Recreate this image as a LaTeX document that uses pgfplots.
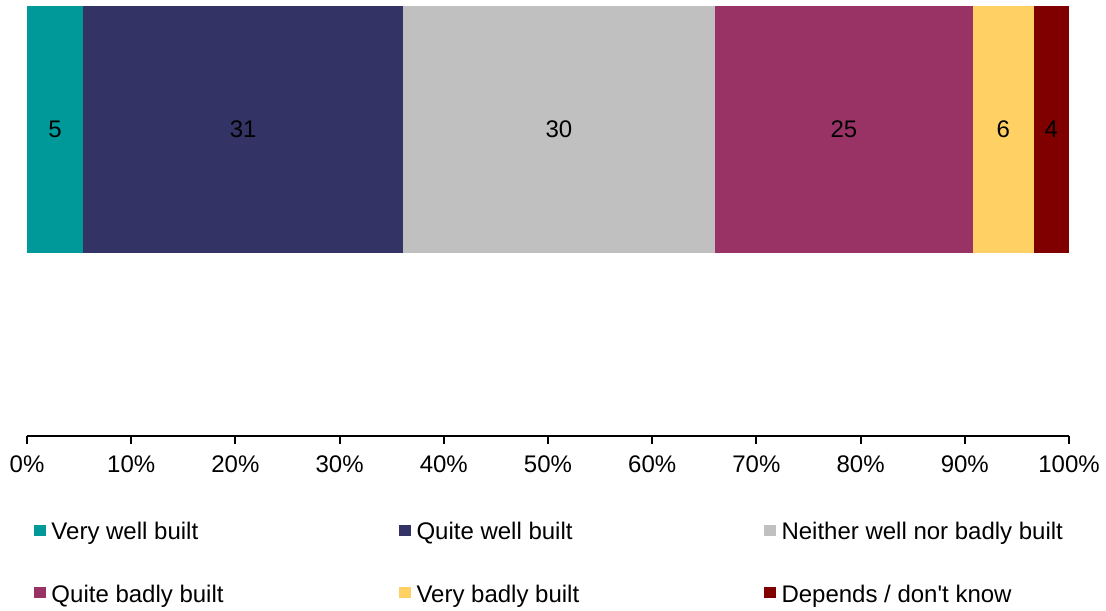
\documentclass[border=0pt]{standalone}
\usepackage{fontspec}
\setmainfont{Liberation Sans}
\usepackage{pgfplots}
\pgfplotsset{compat=1.18}
\definecolor{cA}{RGB}{0,153,153}
\definecolor{cB}{RGB}{51,51,102}
\definecolor{cC}{RGB}{192,192,192}
\definecolor{cD}{RGB}{153,51,102}
\definecolor{cE}{RGB}{255,208,99}
\definecolor{cF}{RGB}{128,0,0}
\pgfplotsset{legsq/.style={legend image code/.code={\fill[##1] (0pt,-2.25pt) rectangle (5.75pt,3.4pt);}}}
\newcommand{\leg}[1]{\makebox[173.75pt][l]{\rule[-3pt]{0pt}{13pt}#1}}
\begin{document}
\fontsize{12}{14.4}\selectfont
\begin{tikzpicture}
\path[use as bounding box] (-13.5pt,-87pt) rectangle (539.5pt,218pt);
\begin{axis}[
  at={(0pt,0pt)}, anchor=south west,
  scale only axis, width=521pt, height=218pt,
  xmin=0, xmax=100, ymin=0, ymax=436,
  xbar stacked, bar width=247,
  axis x line=bottom, axis y line=none,
  x axis line style={-, line width=1pt, black},
  xtick={0,10,...,100},
  xticklabels={0\%,10\%,20\%,30\%,40\%,50\%,60\%,70\%,80\%,90\%,100\%},
  xtick align=outside,
  major tick length=4pt,
  major tick style={line width=1pt, black},
  xticklabel style={yshift=-1.5pt},
  ytick=\empty,
  point meta=explicit symbolic,
  nodes near coords,
  nodes near coords align={center},
  every node near coord/.append style={anchor=center, text=black},
  legend columns=3,
  legend style={at={(rel axis cs:0,0)}, anchor=north west, xshift=3.5pt, yshift=-41.75pt,
    draw=none, inner sep=0pt, outer sep=0pt, row sep=19.5pt, column sep=0pt,
    nodes={inner sep=0pt},
    /tikz/every odd column/.append style={column sep=3pt}},
]
\addplot[fill=cA, draw=none, legsq] coordinates {(5.4,306.5) [5]};
\addlegendentry{\leg{Very well built}}
\addplot[fill=cB, draw=none, legsq] coordinates {(30.7,306.5) [31]};
\addlegendentry{\leg{Quite well built}}
\addplot[fill=cC, draw=none, legsq] coordinates {(29.9,306.5) [30]};
\addlegendentry{\leg{Neither well nor badly built}}
\addplot[fill=cD, draw=none, legsq] coordinates {(24.8,306.5) [25]};
\addlegendentry{\leg{Quite badly built}}
\addplot[fill=cE, draw=none, legsq] coordinates {(5.8,306.5) [6]};
\addlegendentry{\leg{Very badly built}}
\addplot[fill=cF, draw=none, legsq] coordinates {(3.4,306.5) [4]};
\addlegendentry{\leg{Depends / don\textquotesingle t know}}
\end{axis}
\end{tikzpicture}
\end{document}
